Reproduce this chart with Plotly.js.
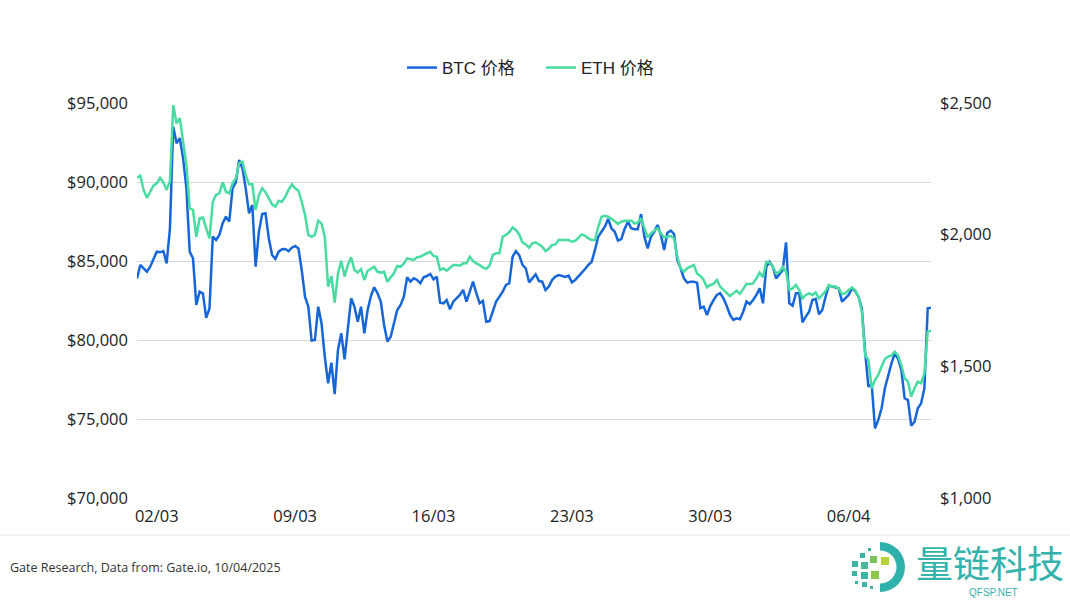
<!DOCTYPE html>
<html>
<head>
<meta charset="utf-8">
<script src="https://cdn.plot.ly/plotly-3.0.1.min.js"></script>
<style>
html,body{margin:0;padding:0;background:#ffffff;}
#chart{width:1070px;height:600px;}
</style>
</head>
<body>
<div id="chart"></div>
<script>
// ---------- data ----------
const startDate = '2025-03-01T00:00:00Z';
const stepHours = 4;
const seriesNames = ['BTC 价格', 'ETH 价格'];

const btcPrice = [
  83900, 84750, 84540, 84320, 84640, 85170, 85590, 85550, 85630, 84850, 87070, 93500,
  92450, 92770, 91500, 89600, 85590, 85170, 82220, 83060, 82950, 81400, 82000, 86540,
  86330, 86650, 87390, 87810, 87490, 89600, 89980, 91390, 90870, 89600, 88020, 88540,
  84640, 86850, 87970, 88020, 86440, 85380, 85130, 85590, 85740, 85760, 85630, 85840,
  85950, 85800, 84430, 82740, 82110, 79960, 80000, 82110, 81060, 78940, 77260, 78560,
  76580, 79370, 80420, 78780, 80850, 82640, 82110, 81160, 82110, 80420, 81900, 82780,
  83340, 82960, 82430, 80950, 79900, 80210, 81060, 81900, 82220, 82740, 83970, 83690,
  83900, 83800, 83590, 83970, 84050, 84180, 83840, 84010, 82360, 82320, 82530, 81940,
  82430,
  82640, 82850, 83170, 82430, 83060, 83690, 82960, 82320, 82470, 81160, 81200, 81790,
  82430, 82740, 83060, 83480, 83590, 85270, 85630, 85380, 84750, 84540, 83650, 83900,
  84160, 83730, 83690, 83170, 83380, 83800, 84010, 84110, 84070, 83990, 84070, 83650,
  83800, 84010, 84220, 84490, 84750, 84950, 85700, 86540, 86850, 87170, 87660, 87070,
  86850,
  86290, 86380, 87030, 87490, 87070, 87010, 87010, 87970, 86540, 85800, 86540, 86850,
  87280, 86650, 85700, 86790, 86920, 86710, 85060, 84540, 83900, 83630, 83690, 83690,
  83630, 82010, 82110, 81580, 82150, 82530, 82850, 82960, 82640, 82150, 81580, 81270,
  81370, 81310, 81790, 82430, 82280, 82530, 82850, 83270, 82320, 84640, 84950, 84640,
  83900, 84160, 84430, 86180, 82320, 82170, 82960, 82960, 81120, 81480, 81790, 82530,
  82600, 81630, 81900, 82740, 83440, 83380, 83310, 83270, 82430, 82640, 82850, 83270,
  83100, 82740, 82010, 79260, 77050, 77200, 74410, 74940, 75680, 76950, 77780, 78520,
  79160, 78800, 78100, 76310, 76200, 74580, 74830, 75680, 75990, 76950, 82010, 82050
];

const ethPrice = [
  2216, 2224, 2170, 2140, 2163, 2186, 2195, 2216, 2199, 2170, 2204, 2492,
  2423, 2442, 2353, 2265, 2100, 2094, 1992, 2062, 2065, 2024, 1986, 2125,
  2151, 2157, 2199, 2163, 2157, 2195, 2214, 2271, 2277, 2227, 2191, 2191,
  2094, 2151, 2176, 2161, 2138, 2115, 2106, 2128, 2125, 2144, 2170, 2191,
  2176, 2167, 2125, 2075, 1999, 1992, 1999, 2053, 2043, 1992, 1803, 1843,
  1742, 1853, 1901, 1841, 1885, 1914, 1866, 1856, 1869, 1828, 1863, 1872,
  1878, 1859, 1856, 1859, 1821, 1838, 1853, 1881, 1878, 1891, 1910, 1907,
  1904, 1914, 1916, 1923, 1929, 1935, 1919, 1916, 1866, 1872, 1863, 1876,
  1885,
  1885, 1882, 1891, 1891, 1916, 1900, 1891, 1885, 1875, 1870, 1882, 1923,
  1929, 1929, 1992, 1999, 2010, 2027, 2018, 2001, 1971, 1963, 1951, 1967,
  1971, 1963, 1954, 1938, 1946, 1961, 1963, 1980, 1980, 1980, 1980, 1973,
  1976, 1989, 2001, 1996, 1986, 1980, 1980, 2030, 2068, 2072, 2068, 2060,
  2049,
  2041, 2049, 2053, 2053, 2053, 2043, 2046, 2062, 2024, 1990, 2005, 2015,
  2024, 2005, 1990, 1992, 1995, 1986, 1916, 1872, 1859, 1872, 1878, 1885,
  1853, 1843, 1828, 1800, 1809, 1813, 1828, 1803, 1790, 1777, 1767, 1777,
  1787, 1775, 1796, 1813, 1813, 1815, 1834, 1856, 1838, 1897, 1894, 1878,
  1853, 1859, 1878, 1859, 1790, 1796, 1809, 1790, 1758, 1771, 1777, 1771,
  1781, 1758, 1771, 1786, 1809, 1803, 1803, 1796, 1774, 1777, 1790, 1799,
  1790, 1765, 1708, 1543, 1524, 1417, 1448, 1467, 1499, 1528, 1537, 1541,
  1556, 1541, 1505, 1455, 1442, 1385, 1417, 1442, 1436, 1474, 1632, 1634
];

const xTickVals = ['2025-03-02', '2025-03-09', '2025-03-16', '2025-03-23', '2025-03-30', '2025-04-06'];
const xTickText = ['02/03', '09/03', '16/03', '23/03', '30/03', '06/04'];
const btcTicks = [70000, 75000, 80000, 85000, 90000, 95000];
const ethTicks = [1000, 1500, 2000, 2500];
const sourceText = 'Gate Research, Data from: Gate.io, 10/04/2025';
const logoText = '量链科技';
const logoSub = 'QFSP.NET';

// ---------- helpers ----------
const money = v => '$' + v.toString().replace(/\B(?=(\d{3})+(?!\d))/g, ',');

function buildTimes(n) {
  const t0 = Date.parse(startDate);
  const out = [];
  for (let i = 0; i < n; i++) {
    out.push(new Date(t0 + i * stepHours * 3600000).toISOString().replace('T', ' ').slice(0, 19));
  }
  return out;
}
const times = buildTimes(btcPrice.length);

const M = {l: 137, r: 139, t: 103, b: 102};
const W = 1070, H = 600;
const PW = W - M.l - M.r, PH = H - M.t - M.b;
const px = v => (v - M.l) / PW;
const py = v => (H - M.b - v) / PH;

const tickFont = {family: 'Open Sans, Liberation Sans, sans-serif', size: 16.5, color: '#222222'};

const traces = [
  {
    x: times, y: btcPrice, name: seriesNames[0], type: 'scatter', mode: 'lines',
    line: {color: '#1766d8', width: 2.5}, yaxis: 'y'
  },
  {
    x: times, y: ethPrice, name: seriesNames[1], type: 'scatter', mode: 'lines',
    line: {color: '#48dca0', width: 2.5}, yaxis: 'y2'
  }
];

const sq = (x, y, s, c) => ({type: 'rect', xref: 'paper', yref: 'paper',
  x0: px(x), x1: px(x + s), y0: py(y + s), y1: py(y), fillcolor: c, line: {width: 0}, layer: 'above'});
const shapes = [
  {type: 'line', xref: 'paper', yref: 'paper', x0: px(0), x1: px(1070), y0: py(535), y1: py(535),
   line: {color: '#e6e6e6', width: 1}},
  {type: 'circle', xref: 'paper', yref: 'paper', x0: px(855), x1: px(905), y0: py(592), y1: py(542),
   fillcolor: '#2fb1ab', line: {width: 0}, layer: 'above'},
  {type: 'circle', xref: 'paper', yref: 'paper', x0: px(863.5), x1: px(896.5), y0: py(583.5), y1: py(550.5),
   fillcolor: '#ffffff', line: {width: 0}, layer: 'above'},
  {type: 'rect', xref: 'paper', yref: 'paper', x0: px(850), x1: px(880), y0: py(596), y1: py(540),
   fillcolor: '#ffffff', line: {width: 0}, layer: 'above'},
  sq(852, 561, 6, '#3cb4a4'),
  sq(860, 553, 5, '#3cb4a4'),
  sq(868, 548, 3, '#3cb4a4'),
  sq(861, 562, 7, '#49b99a'),
  sq(870, 556, 7, '#7cc45a'),
  sq(881, 557, 8, '#b5d334'),
  sq(852, 571, 5, '#3cb4a4'),
  sq(861, 572, 7, '#3cb4a4'),
  sq(871, 571, 8, '#8dc84a'),
  sq(862, 582, 5, '#3cb4a4'),
  sq(855, 581, 3, '#3cb4a4'),
  sq(870, 586, 3, '#3cb4a4')
];

const layout = {
  width: W, height: H,
  margin: M,
  paper_bgcolor: '#ffffff', plot_bgcolor: '#ffffff',
  showlegend: true,
  legend: {
    orientation: 'h', x: px(402), xanchor: 'left', y: py(68), yanchor: 'middle',
    font: {family: 'Liberation Sans, Noto Sans CJK SC, sans-serif', size: 17, color: '#222222'},
    itemwidth: 30, entrywidth: 94, entrywidthmode: 'pixels', tracegroupgap: 0, bgcolor: 'rgba(0,0,0,0)'
  },
  xaxis: {
    type: 'date', range: [times[0], times[times.length - 1]],
    tickmode: 'array', tickvals: xTickVals, ticktext: xTickText,
    showgrid: false, zeroline: false, showline: false, ticks: '',
    tickfont: tickFont, ticklabelstandoff: 6, automargin: false, fixedrange: true
  },
  yaxis: {
    range: [70000, 95000], tickmode: 'array', tickvals: btcTicks, ticktext: btcTicks.map(money),
    showgrid: true, gridcolor: '#d9d9d9', gridwidth: 1, zeroline: false, showline: false, ticks: '',
    tickfont: tickFont, ticklabelstandoff: 8, automargin: false, fixedrange: true
  },
  yaxis2: {
    range: [1000, 2500], tickmode: 'array', tickvals: ethTicks, ticktext: ethTicks.map(money),
    overlaying: 'y', side: 'right',
    showgrid: false, zeroline: false, showline: false, ticks: '',
    tickfont: tickFont, ticklabelstandoff: 8, automargin: false, fixedrange: true
  },
  shapes: shapes,
  annotations: [
    {text: sourceText, xref: 'paper', yref: 'paper', x: px(8), y: py(567), xanchor: 'left', yanchor: 'middle',
     showarrow: false, font: {family: 'Open Sans, Liberation Sans, sans-serif', size: 12.5, color: '#333333'}},
    {text: logoText, xref: 'paper', yref: 'paper', x: px(990), y: py(562), xanchor: 'center', yanchor: 'middle',
     showarrow: false, font: {family: 'Noto Sans CJK SC, sans-serif', size: 37, color: '#34b3ad'}},
    {text: logoSub, xref: 'paper', yref: 'paper', x: px(993), y: py(592), xanchor: 'center', yanchor: 'middle',
     showarrow: false, font: {family: 'Liberation Sans, sans-serif', size: 10, color: '#34b3ad'}}
  ]
};

Plotly.newPlot('chart', traces, layout, {displayModeBar: false, staticPlot: true});
</script>
</body>
</html>
